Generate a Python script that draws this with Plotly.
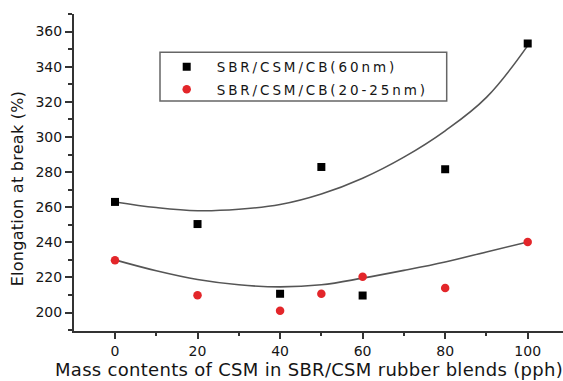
import plotly.graph_objects as go

# Mass content of CSM in the SBR/CSM blend (pph)
csm_pph = [0, 20, 40, 50, 60, 80, 100]

# Elongation at break (%) for the two carbon-black grades
elong_cb60 = [263, 250.4, 210.7, 282.9, 209.7, 281.6, 353.2]
elong_cb20_25 = [229.8, 209.8, 201, 210.7, 220.4, 214, 240.2]

# Smoothed trend lines through each series
trend_x = [0, 10, 20, 30, 40, 50, 60, 70, 80, 90, 100]
trend_cb60 = [263, 259.8, 258, 258.8, 261.5, 267.5, 276.5, 288.5, 303.5, 322.5, 352]
trend_cb20_25 = [230, 223.8, 218.8, 215.8, 214.6, 215.8, 219.6, 224, 228.8, 234.5, 240.2]

names = ["SBR/CSM/CB(60nm)", "SBR/CSM/CB(20-25nm)"]

FONT = "DejaVu Sans"
TXT = "#151515"
AX = "#333333"


def spaced(text, px):
    return f'<span style="letter-spacing:{px}px">{text}</span>'


fig = go.Figure()

fig.add_trace(go.Scatter(x=trend_x, y=trend_cb60, mode="lines",
                         line=dict(color="#555555", width=1.6, shape="spline", smoothing=1.1),
                         showlegend=False, hoverinfo="skip"))
fig.add_trace(go.Scatter(x=trend_x, y=trend_cb20_25, mode="lines",
                         line=dict(color="#555555", width=1.6, shape="spline", smoothing=1.1),
                         showlegend=False, hoverinfo="skip"))

fig.add_trace(go.Scatter(x=csm_pph, y=elong_cb60, mode="markers",
                         name=spaced(names[0], 2.9), legendgroup="a",
                         marker=dict(symbol="square", size=8, color="#000000")))
fig.add_trace(go.Scatter(x=csm_pph, y=elong_cb20_25, mode="markers",
                         name=spaced(names[1], 2.9), legendgroup="b",
                         marker=dict(symbol="circle", size=8.5, color="#e3262a")))

# legend frame
fig.add_shape(type="rect", xref="paper", yref="paper",
              x0=(160 - 74) / 489, x1=(446.7 - 74) / 489,
              y0=(331 - 101) / 317, y1=(331 - 52.3) / 317,
              line=dict(color="#666666", width=1.5), fillcolor="rgba(0,0,0,0)")

# axis titles
fig.add_annotation(text=spaced("Mass contents of CSM in SBR/CSM rubber blends (pph)", 0.3),
                   xref="paper", yref="paper", x=(309 - 74) / 489, y=-(369 - 331) / 317,
                   xanchor="center", yanchor="middle", showarrow=False,
                   font=dict(family=FONT, size=18, color=TXT))
fig.add_annotation(text=spaced("Elongation at break (%)", 0.27),
                   xref="paper", yref="paper", x=(17 - 74) / 489, y=(331 - 188.3) / 317,
                   xanchor="center", yanchor="middle", textangle=-90, showarrow=False,
                   font=dict(family=FONT, size=16, color=TXT))

fig.update_xaxes(range=[-9.93, 108.55], showline=True, linecolor=AX, linewidth=2,
                 showgrid=False, zeroline=False, ticks="outside", tickcolor=AX,
                 ticklen=6, tickwidth=2, tick0=0, dtick=20,
                 tickfont=dict(family=FONT, size=14, color=TXT),
                 minor=dict(ticks="outside", ticklen=3, tickwidth=1.5, tickcolor=AX,
                            dtick=10, tick0=0, showgrid=False))
fig.update_yaxes(range=[189.5, 370], showline=True, linecolor=AX, linewidth=2,
                 showgrid=False, zeroline=False, ticks="outside", tickcolor=AX,
                 ticklen=7, tickwidth=2, tick0=200, dtick=20,
                 tickfont=dict(family=FONT, size=14, color=TXT),
                 minor=dict(ticks="outside", ticklen=4, tickwidth=1.5, tickcolor=AX,
                            dtick=10, tick0=200, showgrid=False))

fig.update_layout(
    width=563, height=381,
    margin=dict(l=74, r=0, t=14, b=50),
    plot_bgcolor="white", paper_bgcolor="white",
    font=dict(family=FONT, size=13.5, color=TXT),
    legend=dict(x=(156.7 - 74) / 489, y=(331 - 51.5) / 317, xanchor="left", yanchor="top",
                bgcolor="rgba(0,0,0,0)", borderwidth=0, itemwidth=50,
                tracegroupgap=2, font=dict(family=FONT, size=13.5, color=TXT)),
)

fig.write_html("out.html")
